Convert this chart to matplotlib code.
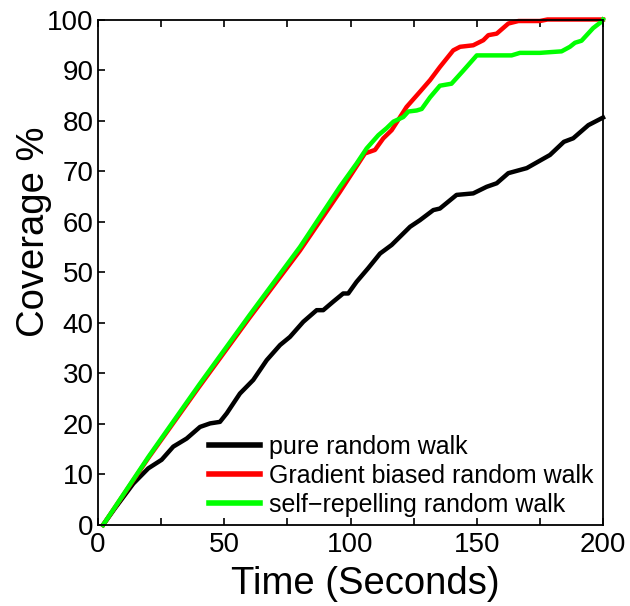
import matplotlib
matplotlib.use("Agg")
import matplotlib.pyplot as plt
from matplotlib.ticker import MultipleLocator

plt.rcParams['font.family'] = ['Liberation Sans', 'DejaVu Sans']

# Data
t_pure = [2, 6.7, 14, 19.9, 25.2, 29.8, 35.1, 40.4, 44.4, 48.3, 51, 56.2, 61.5, 66.8, 72.1, 76,
          81.3, 86.6, 89.2, 93.2, 97.1, 99.1, 102.4, 107, 111.7, 116.3, 123.6, 127.5, 132.8,
          135.4, 142, 148.6, 153.9, 157.9, 162.5, 169.8, 179, 184.5, 188.2, 194.2, 200]
y_pure = [0, 3.3, 8.2, 11.2, 12.9, 15.5, 17.1, 19.4, 20.1, 20.4, 22.1, 26, 28.7, 32.6, 35.6, 37.2,
          40.2, 42.5, 42.5, 44.2, 45.8, 45.8, 48.1, 50.8, 53.7, 55.4, 59, 60.3, 62.3,
          62.6, 65.3, 65.6, 66.9, 67.6, 69.6, 70.6, 73.2, 75.8, 76.5, 79.1, 80.6]

t_grad = [2, 20, 40, 60, 80, 95.8, 105.7, 109.7, 113, 116.3, 122.2, 127.5, 131.5, 135.4, 140.7,
          143.4, 148.6, 152.6, 154.6, 157.9, 162.5, 166.5, 175, 178, 200]
y_grad = [0, 13.3, 27.3, 41, 54.3, 65.9, 73.5, 74.2, 76.5, 78.1, 82.7, 85.7, 88, 90.6, 93.9,
          94.6, 94.9, 95.9, 96.9, 97.2, 99.2, 99.7, 99.7, 100, 100]

t_self = [2, 20, 40, 60, 80, 95.8, 102.4, 106.4, 111, 114.3, 117, 120.9, 122.9, 126.2, 128.2,
          131.5, 135.4, 140, 144.7, 150, 163.8, 167.1, 175, 183.6, 186.9, 188.9, 191.5, 196.1,
          199.5, 200]
y_self = [0, 13.5, 27.7, 41.5, 55, 66.9, 71.5, 74.5, 77.1, 78.5, 79.8, 80.7, 81.8, 82, 82.3,
          84.6, 86.9, 87.3, 89.9, 92.9, 92.9, 93.4, 93.4, 93.7, 94.6, 95.4, 95.8, 98.3,
          99.6, 100]

labels = ['pure random walk', 'Gradient biased random walk', 'self\u2212repelling random walk']
colors = ['#000000', '#ff0000', '#00ff00']

fig = plt.figure(figsize=(6.30, 6.06), dpi=100)
ax = fig.add_axes([98/630, 1-525/606, (603-98)/630, (525-19.5)/606])

for t, y, c, l in zip([t_pure, t_grad, t_self], [y_pure, y_grad, y_self], colors, labels):
    ax.plot(t, y, color=c, lw=3.2, label=l, clip_on=False, solid_joinstyle='round')

ax.set_xlim(0, 200)
ax.set_ylim(0, 100)
ax.xaxis.set_major_locator(MultipleLocator(50))
ax.xaxis.set_minor_locator(MultipleLocator(25))
ax.yaxis.set_major_locator(MultipleLocator(10))
ax.tick_params(axis='both', which='both', direction='in', length=5, width=1.2,
               labelsize=20, top=True, right=False, pad=3)
ax.tick_params(axis='x', which='both', pad=5)
for s in ax.spines.values():
    s.set_linewidth(1.3)
ax.set_xlabel('Time (Seconds)', fontsize=27.5)
ax.set_ylabel('Coverage %', fontsize=27.5)
ax.xaxis.set_label_coords(0.529, -0.082)
ax.yaxis.set_label_coords(-0.092, 0.58)

leg = ax.legend(loc='upper left', bbox_to_anchor=(209/630, 1-435/606),
                bbox_transform=fig.transFigure, frameon=False, fontsize=18,
                handlelength=2.05, handletextpad=0.35, labelspacing=0.2,
                borderpad=0, borderaxespad=0)
for h in leg.get_lines():
    h.set_linewidth(4)

fig.savefig('out.png', dpi=100)
